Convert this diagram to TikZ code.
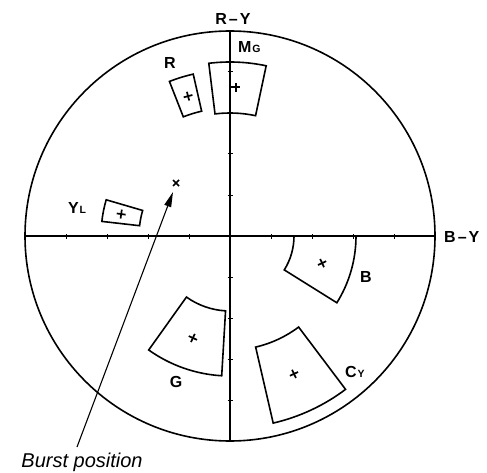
\documentclass[tikz,border=0pt]{standalone}
\usepackage{fontspec}
\setmainfont{Liberation Sans}
\usetikzlibrary{arrows.meta}
\newcommand\secbox[4]{\draw[ln] (#1:#3) arc[start angle=#1,end angle=#2,radius=#3pt] -- (#2:#4) arc[start angle=#2,end angle=#1,radius=#4pt] -- cycle;}
\newcommand\pmark[3]{\draw[mk,shift={(#1:#2)},rotate=#3] (-4.5,0) -- (4.5,0) (0,-4.5) -- (0,4.5);}
\newcommand\subl[1]{\kern0.8pt{\fontsize{10.5}{12}\selectfont #1}}
\begin{document}
\begin{tikzpicture}[x=1pt,y=1pt,
  ln/.style={line width=1.6pt, line join=miter},
  mk/.style={line width=1.7pt},
  tk/.style={line width=1pt},
  lbl/.style={font=\fontsize{16}{18}\selectfont\bfseries, inner sep=0pt},
  blbl/.style={font=\fontsize{20}{22}\selectfont\itshape, inner sep=0pt}]
\useasboundingbox (0,0) rectangle (487,472);
\coordinate (O) at (230,236);
\draw[ln] (O) circle[radius=205pt];
\draw[ln] (25,236) -- (435,236);
\draw[ln] (230,31) -- (230,441);
\begin{scope}[shift={(230,236)}]
  \foreach \k in {-4,...,-1,1,2,3,4}{
    \draw[tk] (\k*41,-2.5) -- (\k*41,2.5);
    \draw[tk] (-2.5,\k*41) -- (2.5,\k*41);
  }
  \secbox{78}{97}{123}{174}
  \secbox{102.8}{111.4}{128}{166}
  \secbox{163.7}{173.5}{91}{129}
  \secbox{-32}{0}{64}{126}
  \secbox{234.5}{266.6}{75}{140}
  \secbox{283}{307}{114}{192}
  \pmark{87.7}{149}{0}
  \pmark{106.7}{146}{15}
  \pmark{168.6}{111}{-8}
  \pmark{-16.4}{96}{25}
  \pmark{250}{108.5}{-25}
  \pmark{294.9}{152}{25}
\end{scope}
% burst marker
\draw[mk] (173,286) -- (179,292) (173,292) -- (179,286);
% labels
\node[lbl] (ry) at (233,453.5) {R\kern2pt–\kern2pt Y};
\node[lbl,anchor=base west] (by) at (444,230) {B\kern2pt–\kern2pt Y};
\node[lbl,anchor=base west] (mg) at (238,419) {M\subl{G}};
\node[lbl,anchor=base] (r) at (170,403) {R};
\node[lbl,anchor=base west] (yl) at (68,259) {Y\subl{L}};
\node[lbl,anchor=base] (b) at (366,190) {B};
\node[lbl,anchor=base] (g) at (176,85) {G};
\node[lbl,anchor=base west] (cy) at (345,95) {C\subl{Y}};
\node[blbl,anchor=base] (burst) at (82,5) {Burst position};
\coordinate (bstart) at (77,25);
\coordinate (btip) at (173,280);
\draw[line width=1.1pt,-{Triangle[length=15pt,width=7pt]}] (bstart) -- (btip);
\end{tikzpicture}
\end{document}
